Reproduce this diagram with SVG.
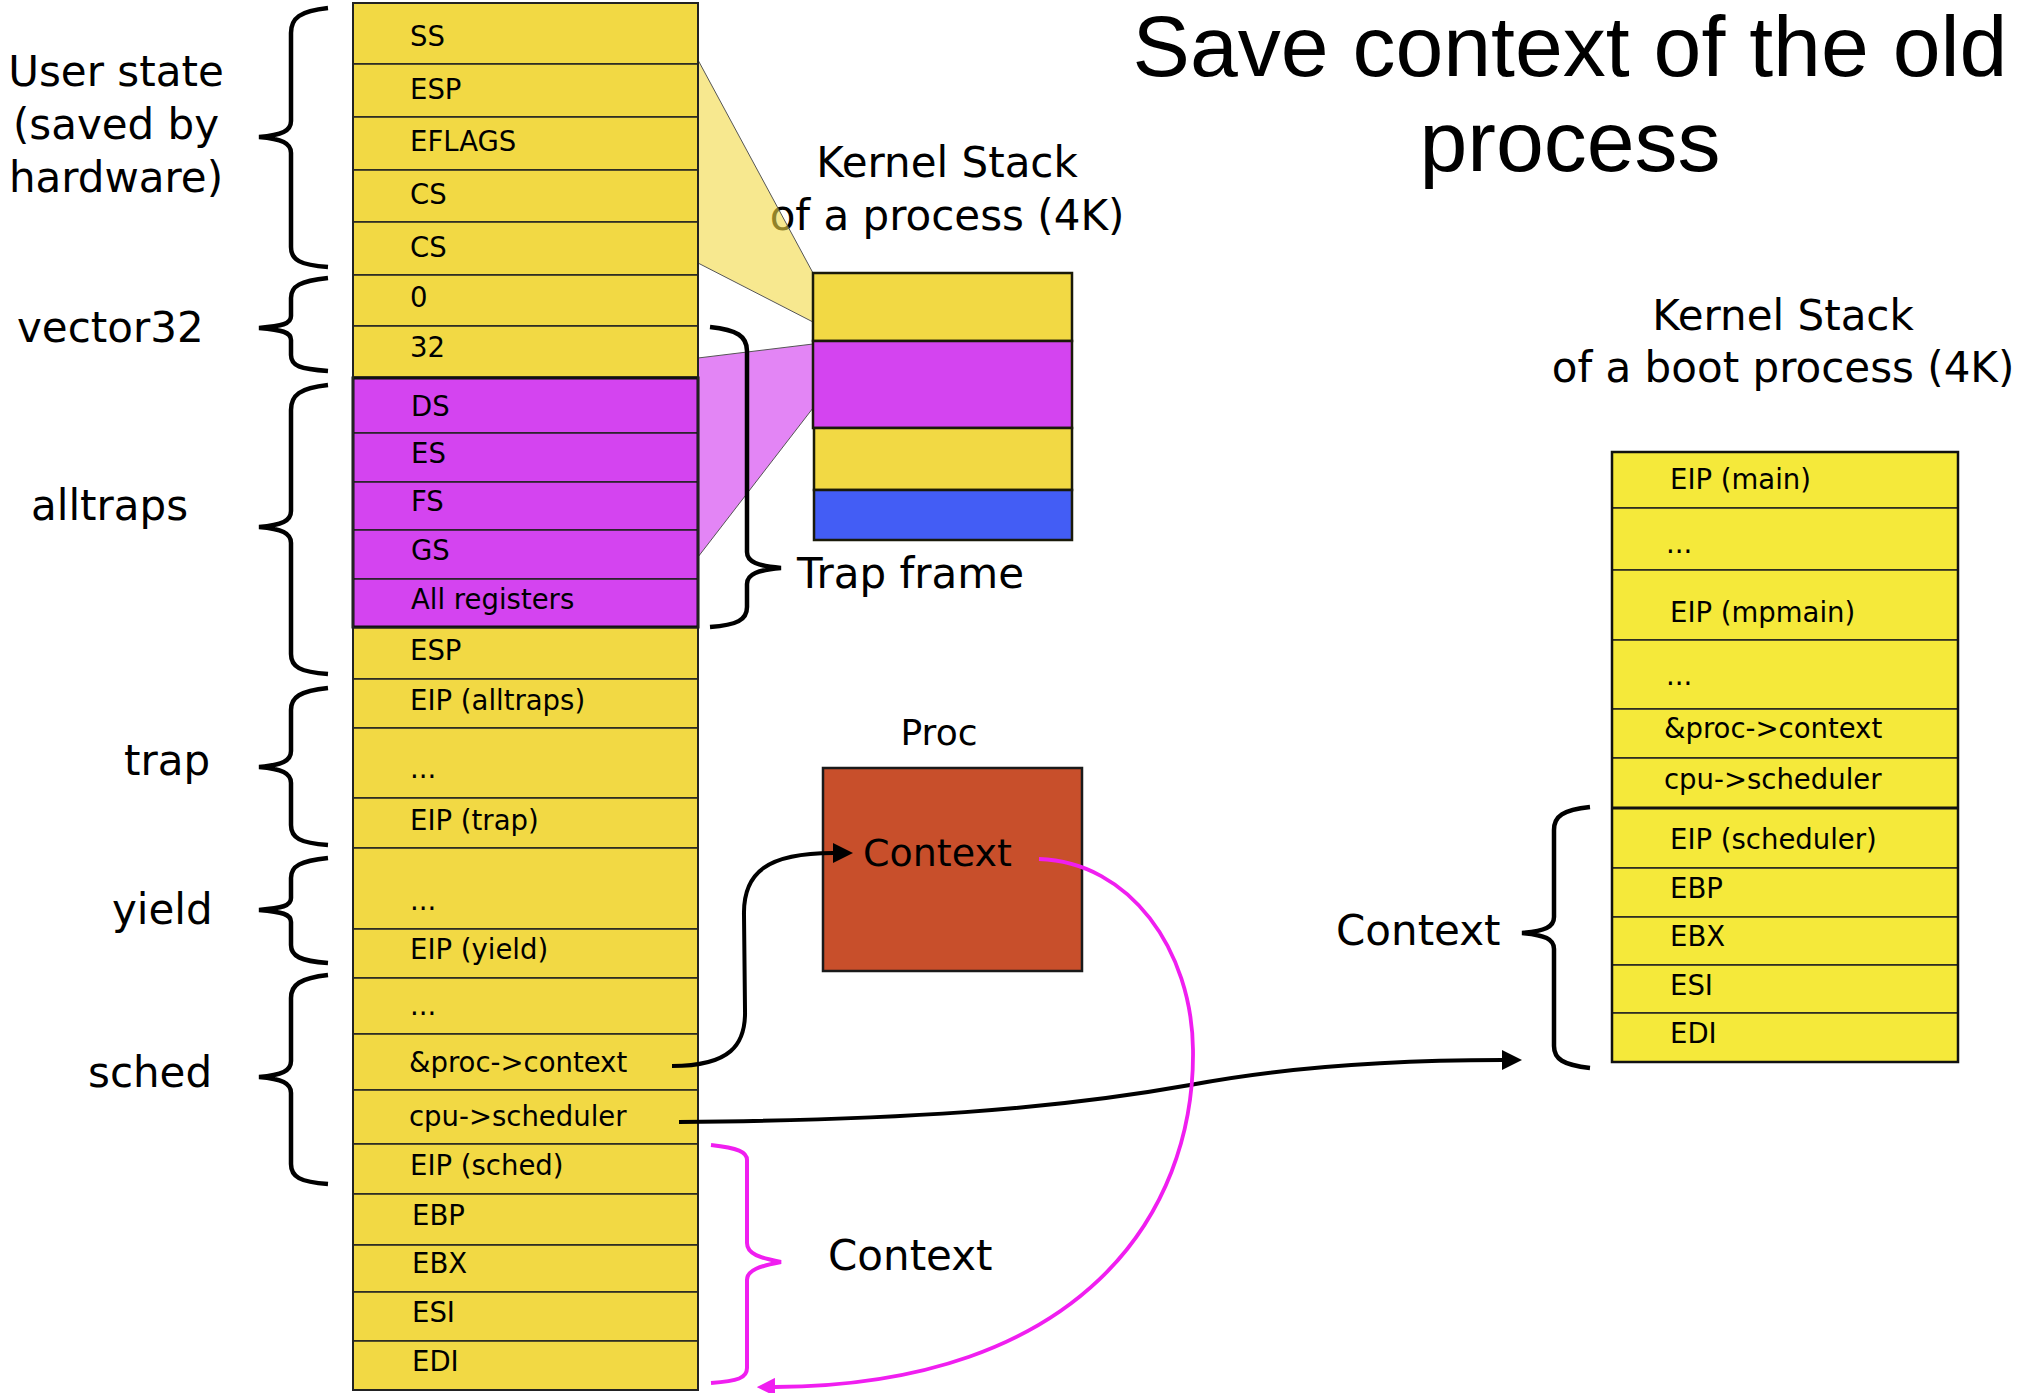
<svg xmlns="http://www.w3.org/2000/svg" width="2018" height="1393" viewBox="0 0 2018 1393">
<style>
text{font-family:"DejaVu Sans",Verdana,sans-serif;fill:#000}
.t{font-size:27.5px}
.big{font-size:42px}
.title{font-family:"Liberation Sans",Arial,sans-serif;font-size:86px}
.y{fill:#f2d944;stroke:#222;stroke-width:1.5}
.m{fill:#d444f0;stroke:#222;stroke-width:1.5}
.ry{fill:#f5e93a;stroke:#222;stroke-width:1.5}
.brace{fill:none;stroke:#000;stroke-width:4.5;stroke-linecap:butt}
.pbrace{fill:none;stroke:#f01ef0;stroke-width:4}
.box{stroke:#1a1a0a;stroke-width:2.5}
</style>
<defs>
<marker id="ah" viewBox="0 0 10 10" refX="0" refY="5" markerWidth="5" markerHeight="5" orient="auto" markerUnits="strokeWidth"><path d="M0,0 L10,5 L0,10 z" fill="#000"/></marker>
<marker id="ahm" viewBox="0 0 10 10" refX="0" refY="5" markerWidth="4.8" markerHeight="4.8" orient="auto" markerUnits="strokeWidth"><path d="M0,0 L10,5 L0,10 z" fill="#f01ef0"/></marker>
</defs>
<rect width="2018" height="1393" fill="#fff"/>

<g id="title">
<text class="title" x="1570" y="76" text-anchor="middle">Save context of the old</text>
<text class="title" x="1570" y="171" text-anchor="middle">process</text>
</g>

<g id="kstack-heading">
<text class="big" x="947" y="177" text-anchor="middle">Kernel Stack</text>
<text class="big" x="947" y="230" text-anchor="middle">of a process (4K)</text>
</g>

<g id="projection">
<polygon points="698,60 813,273 813,322 698,263" fill="#f2d944" fill-opacity="0.6" stroke="#555" stroke-width="1"/>
<polygon points="698,358 813,344 813,408 698,557" fill="#d444f0" fill-opacity="0.65" stroke="#555" stroke-width="1"/>
</g>

<g id="small-stack">
<rect class="box" x="813" y="273" width="259" height="68" fill="#f2d944"/>
<rect class="box" x="813" y="341" width="259" height="87" fill="#d444f0"/>
<rect class="box" x="814" y="428" width="258" height="62" fill="#f2d944"/>
<rect class="box" x="814" y="490" width="258" height="50" fill="#435df5"/>
</g>

<g id="left-stack">
<g id="r-ss"><rect class="y" x="353" y="3" width="345" height="61"/><text class="t" x="410" y="46">SS</text></g>
<g id="r-esp-u"><rect class="y" x="353" y="64" width="345" height="53"/><text class="t" x="410" y="99">ESP</text></g>
<g id="r-eflags"><rect class="y" x="353" y="117" width="345" height="53"/><text class="t" x="410" y="151">EFLAGS</text></g>
<g id="r-cs1"><rect class="y" x="353" y="170" width="345" height="52"/><text class="t" x="410" y="204">CS</text></g>
<g id="r-cs2"><rect class="y" x="353" y="222" width="345" height="53"/><text class="t" x="410" y="257">CS</text></g>
<g id="r-0"><rect class="y" x="353" y="275" width="345" height="51"/><text class="t" x="410" y="307">0</text></g>
<g id="r-32"><rect class="y" x="353" y="326" width="345" height="51"/><text class="t" x="410" y="357">32</text></g>
<g id="r-ds"><rect class="m" x="353" y="378" width="345" height="55"/><text class="t" x="411" y="416">DS</text></g>
<g id="r-es"><rect class="m" x="353" y="433" width="345" height="49"/><text class="t" x="411" y="463">ES</text></g>
<g id="r-fs"><rect class="m" x="353" y="482" width="345" height="48"/><text class="t" x="411" y="511">FS</text></g>
<g id="r-gs"><rect class="m" x="353" y="530" width="345" height="49"/><text class="t" x="411" y="560">GS</text></g>
<g id="r-allregs"><rect class="m" x="353" y="579" width="345" height="48"/><text class="t" x="411" y="609">All registers</text></g>
<rect x="353" y="378" width="345" height="249" fill="none" stroke="#111" stroke-width="3"/>
<g id="r-esp-k"><rect class="y" x="353" y="628" width="345" height="51"/><text class="t" x="410" y="660">ESP</text></g>
<g id="r-eip-alltraps"><rect class="y" x="353" y="679" width="345" height="49"/><text class="t" x="410" y="710">EIP (alltraps)</text></g>
<g id="r-dots1"><rect class="y" x="353" y="728" width="345" height="70"/><text class="t" x="410" y="778">...</text></g>
<g id="r-eip-trap"><rect class="y" x="353" y="798" width="345" height="50"/><text class="t" x="410" y="830">EIP (trap)</text></g>
<g id="r-dots2"><rect class="y" x="353" y="848" width="345" height="81"/><text class="t" x="410" y="910">...</text></g>
<g id="r-eip-yield"><rect class="y" x="353" y="929" width="345" height="49"/><text class="t" x="410" y="959">EIP (yield)</text></g>
<g id="r-dots3"><rect class="y" x="353" y="978" width="345" height="56"/><text class="t" x="410" y="1015">...</text></g>
<g id="r-proc-context"><rect class="y" x="353" y="1034" width="345" height="56"/><text class="t" x="409" y="1072">&amp;proc-&gt;context</text></g>
<g id="r-cpu-scheduler"><rect class="y" x="353" y="1090" width="345" height="54"/><text class="t" x="409" y="1126">cpu-&gt;scheduler</text></g>
<g id="r-eip-sched"><rect class="y" x="353" y="1144" width="345" height="50"/><text class="t" x="410" y="1175">EIP (sched)</text></g>
<g id="r-ebp"><rect class="y" x="353" y="1194" width="345" height="51"/><text class="t" x="412" y="1225">EBP</text></g>
<g id="r-ebx"><rect class="y" x="353" y="1245" width="345" height="47"/><text class="t" x="412" y="1273">EBX</text></g>
<g id="r-esi"><rect class="y" x="353" y="1292" width="345" height="49"/><text class="t" x="412" y="1322">ESI</text></g>
<g id="r-edi"><rect class="y" x="353" y="1341" width="345" height="49"/><text class="t" x="412" y="1371">EDI</text></g>
<rect x="353" y="3" width="345" height="1387" fill="none" stroke="#222" stroke-width="2"/>
</g>

<g id="left-labels">
<g id="lbl-user">
<path class="brace" d="M328 8 C300 11,291 18,291 33 L291 121 C291 131,282 135,259 137 C282 139,291 143,291 153 L291 247 C291 260,300 265,328 267"/>
<text class="big" x="116" y="86" text-anchor="middle">User state</text>
<text class="big" x="116" y="139" text-anchor="middle">(saved by</text>
<text class="big" x="116" y="192" text-anchor="middle">hardware)</text>
</g>
<g id="lbl-vector32">
<path class="brace" d="M328 278 C300 281,291 286,291 298 L291 316 C291 324,282 326,259 328 C282 330,291 332,291 340 L291 355 C291 366,300 369,328 371"/>
<text class="big" x="17" y="342">vector32</text>
</g>
<g id="lbl-alltraps">
<path class="brace" d="M328 385 C300 388,291 395,291 410 L291 511 C291 521,282 525,259 527 C282 529,291 533,291 543 L291 654 C291 667,300 672,328 674"/>
<text class="big" x="31" y="520">alltraps</text>
</g>
<g id="lbl-trap">
<path class="brace" d="M328 688 C300 691,291 697,291 710 L291 751 C291 761,282 765,259 767 C282 769,291 773,291 783 L291 825 C291 838,300 843,328 845"/>
<text class="big" x="124" y="775">trap</text>
</g>
<g id="lbl-yield">
<path class="brace" d="M328 858 C300 861,291 866,291 878 L291 898 C291 906,282 908,259 910 C282 912,291 914,291 922 L291 945 C291 956,300 961,328 963"/>
<text class="big" x="112" y="924">yield</text>
</g>
<g id="lbl-sched">
<path class="brace" d="M328 975 C300 978,291 985,291 998 L291 1061 C291 1071,282 1075,259 1077 C282 1079,291 1083,291 1093 L291 1164 C291 1177,300 1182,328 1184"/>
<text class="big" x="88" y="1087">sched</text>
</g>
</g>

<g id="trap-frame">
<path class="brace" d="M710 327 C737 330,747 336,747 351 L747 552 C747 562,758 566,781 568 C758 570,747 574,747 584 L747 607 C747 620,737 625,710 627"/>
<text class="big" x="797" y="588" font-size="41">Trap frame</text>
</g>

<g id="proc">
<text x="939" y="745" text-anchor="middle" font-size="36">Proc</text>
<rect x="823" y="768" width="259" height="203" fill="#c84f2b" stroke="#1a1a1a" stroke-width="2.5"/>
<text x="863" y="866" font-size="38">Context</text>
</g>

<g id="context-old">
<path class="pbrace" d="M711 1145 C738 1148,747 1152,747 1160 L747 1243 C747 1254,760 1258,781 1262 C760 1266,747 1270,747 1280 L747 1368 C747 1378,738 1381,711 1383"/>
<text class="big" x="828" y="1270">Context</text>
</g>

<g id="boot-heading">
<text class="big" x="1783" y="330" text-anchor="middle">Kernel Stack</text>
<text class="big" x="1783" y="382" text-anchor="middle">of a boot process (4K)</text>
</g>

<g id="right-stack">
<g id="b-eip-main"><rect class="ry" x="1612" y="452" width="346" height="56"/><text class="t" x="1670" y="489">EIP (main)</text></g>
<g id="b-dots1"><rect class="ry" x="1612" y="508" width="346" height="62"/><text class="t" x="1666" y="553">...</text></g>
<g id="b-eip-mpmain"><rect class="ry" x="1612" y="570" width="346" height="70"/><text class="t" x="1670" y="622">EIP (mpmain)</text></g>
<g id="b-dots2"><rect class="ry" x="1612" y="640" width="346" height="69"/><text class="t" x="1666" y="685">...</text></g>
<g id="b-proc-context"><rect class="ry" x="1612" y="709" width="346" height="49"/><text class="t" x="1664" y="738">&amp;proc-&gt;context</text></g>
<g id="b-cpu-scheduler"><rect class="ry" x="1612" y="758" width="346" height="50"/><text class="t" x="1664" y="789">cpu-&gt;scheduler</text></g>
<g id="b-eip-scheduler"><rect class="ry" x="1612" y="808" width="346" height="60"/><text class="t" x="1670" y="849">EIP (scheduler)</text></g>
<g id="b-ebp"><rect class="ry" x="1612" y="868" width="346" height="49"/><text class="t" x="1670" y="898">EBP</text></g>
<g id="b-ebx"><rect class="ry" x="1612" y="917" width="346" height="48"/><text class="t" x="1670" y="946">EBX</text></g>
<g id="b-esi"><rect class="ry" x="1612" y="965" width="346" height="48"/><text class="t" x="1670" y="995">ESI</text></g>
<g id="b-edi"><rect class="ry" x="1612" y="1013" width="346" height="49"/><text class="t" x="1670" y="1043">EDI</text></g>
<line x1="1612" y1="808" x2="1958" y2="808" stroke="#111" stroke-width="3"/>
<rect x="1612" y="452" width="346" height="610" fill="none" stroke="#111" stroke-width="2.5"/>
</g>

<g id="context-boot">
<path class="brace" d="M1590 807 C1563 810,1554 816,1554 830 L1554 917 C1554 927,1545 931,1522 933 C1545 935,1554 939,1554 949 L1554 1046 C1554 1059,1563 1065,1590 1068"/>
<text class="big" x="1336" y="945">Context</text>
</g>

<g id="connectors">
<path d="M672 1066 C730 1066,746 1045,745 1010 L744 915 C743 872,768 853,833 853" fill="none" stroke="#000" stroke-width="4" marker-end="url(#ah)"/>
<path d="M679 1122 C900 1120,1050 1110,1190 1085 C1280 1068,1380 1060,1502 1060" fill="none" stroke="#000" stroke-width="4" marker-end="url(#ah)"/>
<path d="M1039 859 C1130 862,1192 950,1193 1050 C1195 1215,1080 1385,775 1387" fill="none" stroke="#f01ef0" stroke-width="3.8" marker-end="url(#ahm)"/>
</g>
</svg>
